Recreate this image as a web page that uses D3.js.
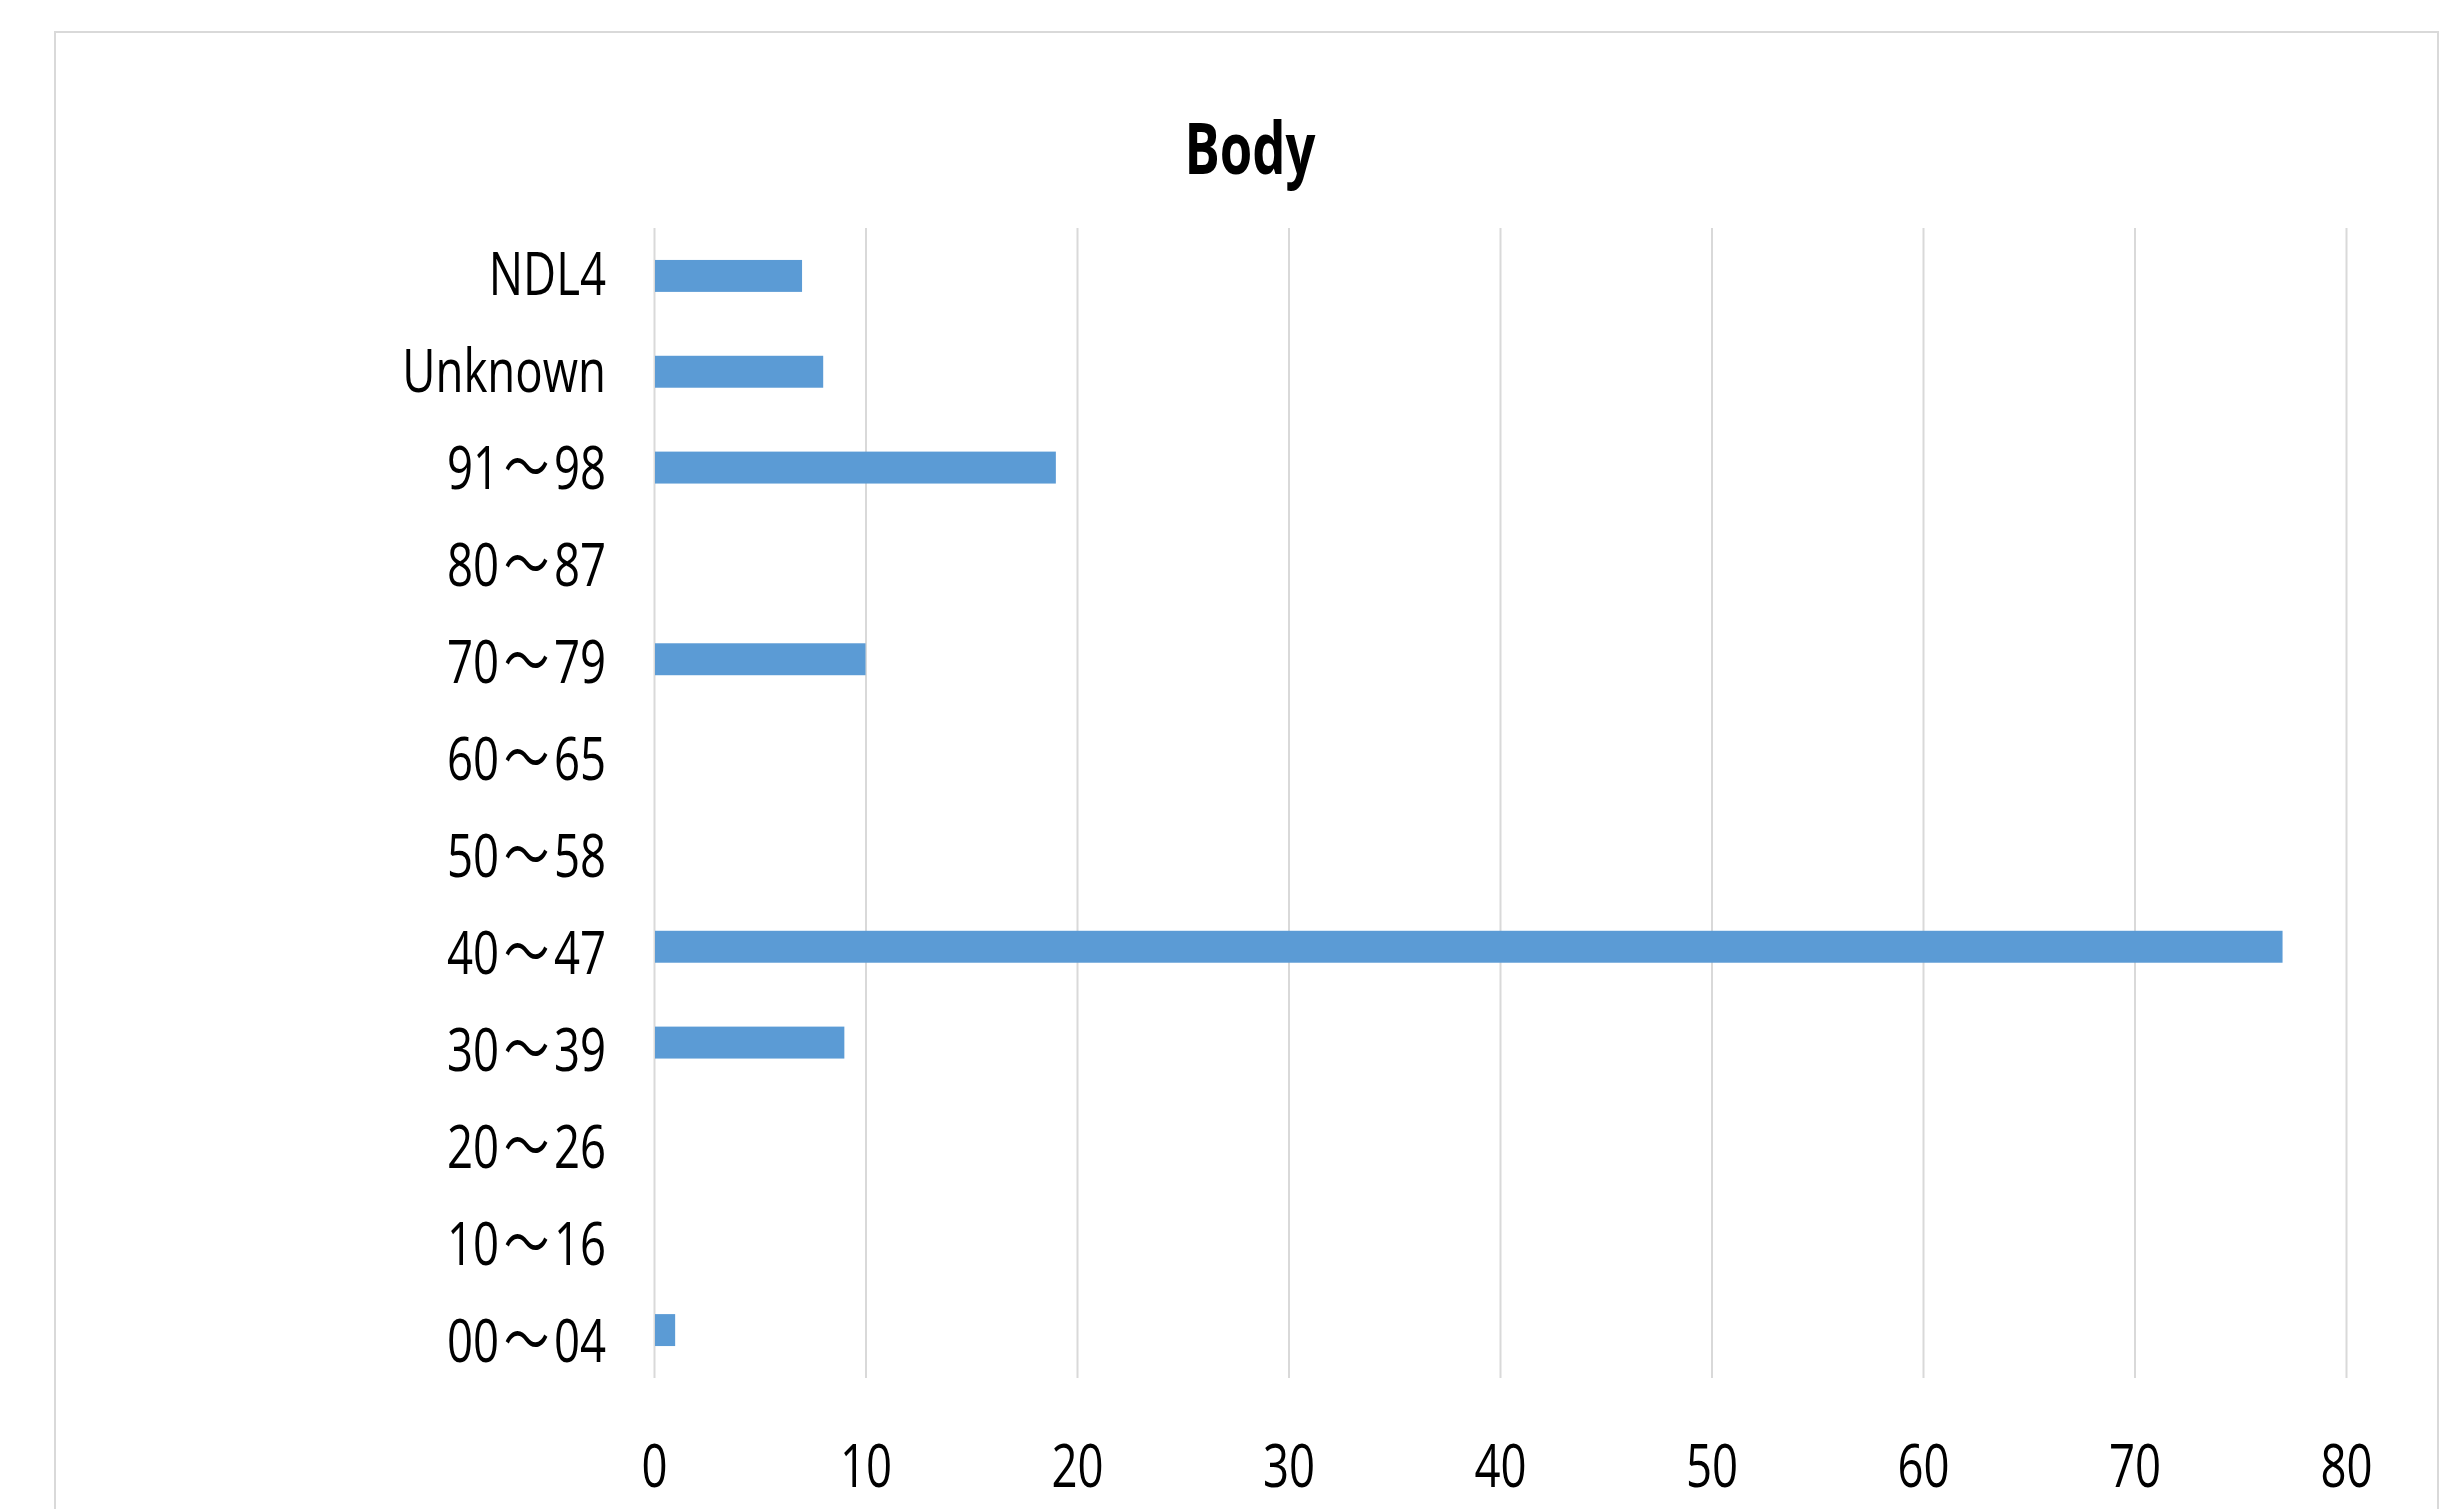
<!DOCTYPE html>
<html>
<head>
<meta charset="utf-8">
<title>Body</title>
<script src="https://cdn.jsdelivr.net/npm/d3@7"></script>
<style>
  body { margin: 0; background: #fff; }
  svg { display: block; }
  text { font-family: "Open Sans", "Noto Sans CJK JP", sans-serif; fill: #000; }
</style>
</head>
<body>
<div id="chart"></div>
<script>
// data (top row first)
const categories = ['NDL4', 'Unknown', '91〜98', '80〜87', '70〜79', '60〜65',
  '50〜58', '40〜47', '30〜39', '20〜26', '10〜16', '00〜04'];
const counts = [7, 8, 19, 0, 10, 0, 0, 77, 9, 0, 0, 1];
const xTicks = [0, 10, 20, 30, 40, 50, 60, 70, 80];
const chartTitle = 'Body';

const width = 2463,
  height = 1509;

// plot area
const plotLeft = 654, plotRight = 2346, plotTop = 228, plotBottom = 1378;
const squeeze = 0.76; // the text in the picture is narrow, like Calibri

const data = categories.map((c, i) => ({ category: c, value: counts[i] }));
console.log('data', data);

const svg = d3.select('#chart')
  .append('svg')
  .attr('width', width)
  .attr('height', height);

// outer frame, bottom edge runs off the picture
svg.append('rect')
  .attr('x', 55)
  .attr('y', 32)
  .attr('width', 2383)
  .attr('height', 1600)
  .attr('fill', 'none')
  .attr('stroke', '#d9d9d9')
  .attr('stroke-width', 2);

const x = d3.scaleLinear()
  .domain([0, 80])
  .range([plotLeft, plotRight]);

// 1/3 of each band is bar, like excel gap width 200%
const y = d3.scaleBand()
  .domain(categories)
  .range([plotTop, plotBottom])
  .paddingInner(2 / 3)
  .paddingOuter(1 / 3);

// labels sit a touch wider apart than the bars
const yLabel = d3.scalePoint()
  .domain(categories)
  .range([273, 1340]);

// vertical gridlines + x labels
const xAxis = svg.append('g')
  .attr('transform', `translate(0,${plotBottom})`)
  .call(d3.axisBottom(x).tickValues(xTicks).tickSize(-(plotBottom - plotTop)).tickFormat(d3.format('d')));

xAxis.select('.domain').remove();
xAxis.selectAll('line')
  .attr('stroke', '#d9d9d9')
  .attr('stroke-width', 2);
xAxis.selectAll('text')
  .attr('y', 109)
  .attr('dy', 0)
  .attr('transform', `scale(${squeeze},1)`)
  .style('font-size', '60px');

// bars
svg.selectAll('.bar')
  .data(data)
  .join('rect')
  .attr('class', 'bar')
  .attr('x', x(0) + 1)
  .attr('y', d => y(d.category))
  .attr('width', d => Math.max(0, x(d.value) - x(0) - 1))
  .attr('height', y.bandwidth())
  .attr('fill', '#5b9bd5');

// category labels
const yAxis = svg.append('g')
  .attr('transform', `translate(${plotLeft},0)`)
  .call(d3.axisLeft(yLabel).tickSize(0));

yAxis.select('.domain').remove();
yAxis.selectAll('text')
  .attr('x', -48 / squeeze)
  .attr('y', 21)
  .attr('dy', 0)
  .attr('transform', `scale(${squeeze},1)`)
  .style('font-size', '60px')
  .each(function(d) {
    // wave dash needs a bit more room around it
    const parts = d.split('〜');
    if (parts.length < 2) return;
    const t = d3.select(this).text(null);
    t.append('tspan').text(parts[0]);
    t.append('tspan').attr('dx', 6).text('〜');
    t.append('tspan').attr('dx', 6).text(parts[1]);
  });

// title
svg.append('text')
  .attr('transform', `translate(1250,174) scale(0.73,1)`)
  .attr('text-anchor', 'middle')
  .style('font-size', '72px')
  .style('font-weight', 'bold')
  .text(chartTitle);
</script>
</body>
</html>
